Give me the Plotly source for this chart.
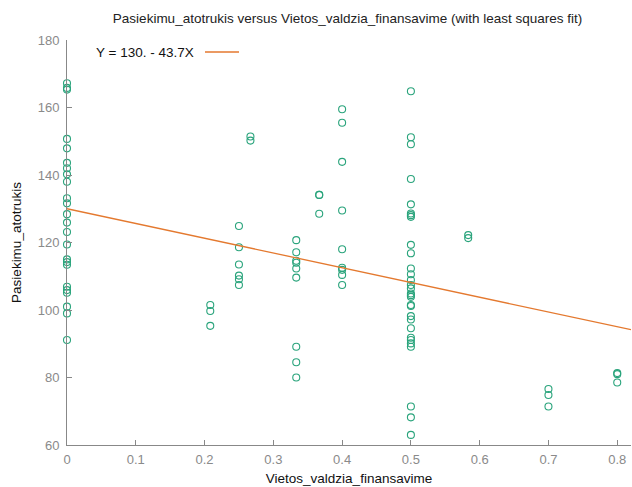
import plotly.graph_objects as go

# Data: x groups and corresponding y values
x_groups = [0.0, 0.2083, 0.25, 0.2667, 0.3333, 0.3667, 0.4, 0.5, 0.5833, 0.7, 0.8]
y_at_0 = [167.2, 165.8, 165.3, 150.7, 147.9, 143.6, 142.0, 140.2, 138.0, 133.1, 131.6, 128.4,
          125.9, 123.1, 119.4, 115.0, 114.2, 113.4, 106.9, 105.9, 105.1, 101.0, 99.0, 91.1]
y_at_0208 = [101.5, 99.7, 95.3]
y_at_025 = [124.9, 118.6, 113.5, 110.2, 109.1, 107.4]
y_at_0267 = [151.4, 150.2]
y_at_0333 = [120.7, 117.1, 114.6, 114.0, 112.3, 109.6, 89.1, 84.5, 80.0]
y_at_0367 = [134.1, 134.1, 128.5]
y_at_04 = [159.5, 155.5, 143.9, 129.5, 118.0, 112.5, 111.9, 110.4, 107.4]
y_at_05 = [164.8, 151.2, 149.1, 138.8, 131.3, 128.6, 128.1, 127.6, 119.3, 116.8, 112.3, 110.6,
           108.9, 107.4, 106.4, 104.9, 104.4, 103.9, 101.5, 101.2, 98.2, 97.2, 94.6, 91.8,
           91.1, 90.1, 89.1, 71.4, 68.2, 63.0]
y_at_0583 = [122.2, 121.3]
y_at_07 = [76.6, 74.8, 71.4]
y_at_08 = [81.3, 81.0, 78.5]
y_groups = [y_at_0, y_at_0208, y_at_025, y_at_0267, y_at_0333, y_at_0367, y_at_04,
            y_at_05, y_at_0583, y_at_07, y_at_08]

fit_intercept = 130.0
fit_slope = -43.7
x_range = [0.0, 0.82]

xs, ys = [], []
for xv, yl in zip(x_groups, y_groups):
    for yv in yl:
        xs.append(xv)
        ys.append(yv)

GREEN = "#2aa47c"
ORANGE = "#e4792f"
FONT = "Liberation Sans, Arial, Helvetica, sans-serif"

fig = go.Figure()
fig.add_trace(go.Scatter(
    x=xs, y=ys, mode="markers", cliponaxis=False, showlegend=False,
    marker=dict(symbol="circle-open", size=7, color=GREEN, line=dict(width=1.1, color=GREEN)),
))
fig.add_trace(go.Scatter(
    x=x_range, y=[fit_intercept + fit_slope * v for v in x_range],
    mode="lines", showlegend=False, line=dict(color=ORANGE, width=1.3),
))

fig.update_layout(
    width=632, height=487,
    margin=dict(l=67, r=1, t=40, b=42),
    paper_bgcolor="white", plot_bgcolor="white",
    font=dict(family=FONT, size=13, color="#222"),
    title=dict(text="Pasiekimu_atotrukis versus Vietos_valdzia_finansavime (with least squares fit)",
               x=0.55, xanchor="center", y=0.963, yanchor="middle",
               font=dict(family=FONT, size=13.5, color="#222")),
    xaxis=dict(range=x_range, tickvals=[0, 0.1, 0.2, 0.3, 0.4, 0.5, 0.6, 0.7, 0.8],
               ticktext=["0", "0.1", "0.2", "0.3", "0.4", "0.5", "0.6", "0.7", "0.8"],
               ticks="inside", ticklen=5, tickcolor="#888", showline=True, linecolor="#888",
               linewidth=1, showgrid=False, zeroline=False, ticklabelstandoff=2,
               tickfont=dict(family=FONT, size=13, color="#8a8a8a"),
               title=dict(text="Vietos_valdzia_finansavime", standoff=7,
                          font=dict(family=FONT, size=13.5, color="#111"))),
    yaxis=dict(range=[60, 180], tickvals=[60, 80, 100, 120, 140, 160, 180],
               ticks="inside", ticklen=5, tickcolor="#888", showline=True, linecolor="#888",
               linewidth=1, showgrid=False, zeroline=False, ticklabelstandoff=4,
               tickfont=dict(family=FONT, size=13, color="#8a8a8a"),
               title=dict(text="Pasiekimu_atotrukis", standoff=12,
                          font=dict(family=FONT, size=13.5, color="#111"))),
)

# Legend-like key: text followed by line sample
fig.add_annotation(xref="paper", yref="paper", x=(94 - 67) / 564, y=(445 - 52) / 405,
                   text="Y = 130. - 43.7X", showarrow=False, xanchor="left", yanchor="middle",
                   font=dict(family=FONT, size=13.5, color="#111"))
fig.add_shape(type="line", xref="paper", yref="paper",
              x0=(205 - 67) / 564, x1=(239 - 67) / 564,
              y0=(445 - 52) / 405, y1=(445 - 52) / 405,
              line=dict(color=ORANGE, width=1.3))

fig.write_html("out.html")
